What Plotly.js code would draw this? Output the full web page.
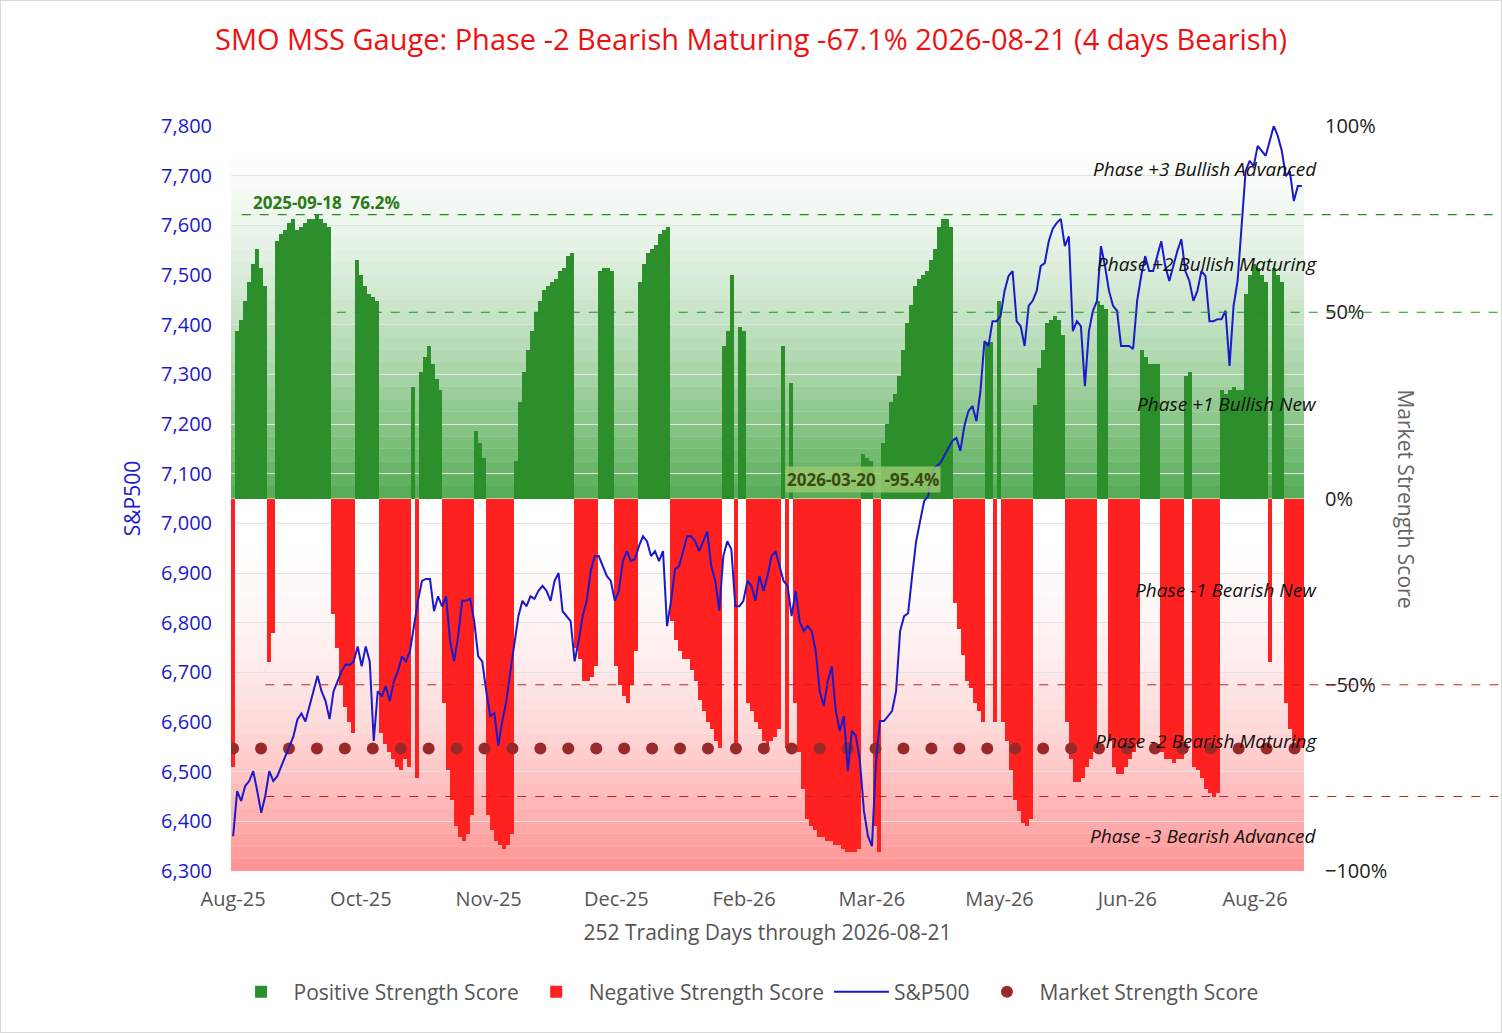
<!DOCTYPE html>
<html>
<head>
<meta charset="utf-8">
<script src="https://cdn.plot.ly/plotly-3.0.1.min.js"></script>
<style>
  body { margin: 0; background: #fff; }
  #chart { width: 1500px; height: 1031px; border: 1px solid #d9d9d9; }
</style>
</head>
<body>
<div id="chart"></div>
<script>
// month labels, one every 30 trading days
const tickLabels = ['Aug-25', 'Oct-25', 'Nov-25', 'Dec-25', 'Feb-26', 'Mar-26', 'May-26', 'Jun-26', 'Aug-26']
const tickDays = [0, 30, 60, 90, 120, 150, 180, 210, 240]

// market strength score (%), read left to right
const score = [
  -72, 45, 48, 53, 58, 63, 67, 62, 57, -44, -36,
  69, 71, 72, 74, 75, 72, 73, 74, 75, 75, 76, 75, 74, 73,
  -31, -40, -50, -56, -60, -63,
  64, 60, 57, 55, 54, 53,
  -63, -66, -68, -70, -72, -73, -70, -72,
  30, -75,
  34, 38, 41, 36, 32, 29,
  -55, -73, -81, -88, -91, -92, -90, -85,
  18, 15, 11,
  -85, -89, -92, -93, -94, -93, -90,
  10, 26, 34, 40, 45, 50, 53, 56, 57, 58, 59, 61, 62, 65, 66,
  -40, -43, -49, -49, -48, -45,
  61, 62, 62, 61,
  -45, -50, -53, -55, -50, -41,
  58, 63, 66, 67, 68, 71, 72, 73,
  -33, -38, -41, -43, -43, -46, -49, -54, -57, -60, -62, -65, -67,
  41, 45, 60, -66, 46, 45,
  -55, -57, -60, -62, -65, -68, -65, -64, -62,
  41, -67, 31,
  -55, -68, -78, -86, -88, -89, -91, -91, -92, -92, -93, -93, -94, -95, -95, -95, -94,
  12, 11, 10, -88, -95,
  15, 20, 26, 28, 33, 40, 47, 52, 57, 59, 60, 61, 64, 67, 73, 75, 75, 73,
  -28, -35, -42, -49, -51, -55, -57, -60,
  42, 42, -60, 53,
  -60, -65, -73, -81, -84, -87, -88, -86,
  25, 35, 40, 47, 48, 49, 48, 44,
  -60, -70, -76, -76, -75, -72, -70, -68,
  53, 52, 51,
  -65, -72, -74, -74, -72, -70, -68, -66,
  40, 38, 36, 36, 36,
  -68, -70, -70, -71, -70, -70,
  33, 34,
  -72, -73, -75, -78, -79, -80, -79,
  29, 28, 29, 30, 29, 29,
  55, 60, 63, 62, 60, 58,
  -44, 62, 60, 58,
  -55, -62, -65, -67, -67.1
]

// S&P500 close, read left to right
const spx = [
  6370, 6461, 6441, 6471, 6481, 6501, 6461, 6417, 6451, 6501, 6481, 6491, 6511, 6531, 6551,
  6571, 6605, 6617, 6601, 6632, 6662, 6693, 6662, 6642, 6606, 6662, 6682, 6702, 6716, 6715,
  6722, 6752, 6712, 6752, 6722, 6562, 6662, 6652, 6672, 6642, 6682, 6702, 6732, 6722, 6742,
  6793, 6844, 6884, 6888, 6888, 6823, 6853, 6833, 6853, 6763, 6722, 6773, 6844, 6844, 6848,
  6803, 6732, 6722, 6662, 6612, 6618, 6552, 6602, 6642, 6702, 6763, 6813, 6844, 6833, 6853,
  6848, 6864, 6874, 6864, 6844, 6884, 6900, 6823, 6813, 6803, 6722, 6763, 6813, 6844, 6904,
  6934, 6934, 6914, 6894, 6884, 6844, 6864, 6924, 6944, 6924, 6928, 6954, 6974, 6964, 6934,
  6944, 6924, 6944, 6793, 6844, 6908, 6914, 6944, 6974, 6974, 6964, 6944, 6964, 6984, 6914,
  6884, 6824, 6934, 6964, 6948, 6833, 6833, 6844, 6884, 6874, 6844, 6894, 6864, 6894, 6934,
  6944, 6914, 6884, 6874, 6813, 6864, 6803, 6783, 6793, 6783, 6743, 6662, 6632, 6682, 6712,
  6622, 6582, 6612, 6501, 6582, 6572, 6521, 6421, 6370, 6350, 6521, 6602, 6602, 6612, 6622,
  6662, 6783, 6813, 6819, 6894, 6964, 7005, 7045, 7055, 7105, 7115, 7121, 7136, 7150, 7166,
  7172, 7146, 7196, 7226, 7236, 7206, 7266, 7367, 7357, 7407, 7407, 7417, 7468, 7498, 7508,
  7407, 7397, 7357, 7438, 7448, 7468, 7518, 7524, 7568, 7593, 7605, 7613, 7558, 7578, 7387,
  7407, 7397, 7276, 7387, 7428, 7448, 7558, 7518, 7468, 7438, 7428, 7357, 7357, 7357, 7351,
  7448, 7498, 7538, 7508, 7508, 7538, 7568, 7518, 7488, 7518, 7548, 7572, 7508, 7488, 7448,
  7468, 7508, 7498, 7407, 7407, 7411, 7411, 7428, 7317, 7438, 7488, 7609, 7709, 7730, 7719,
  7760, 7750, 7740, 7770, 7800, 7780, 7750, 7699, 7709, 7649, 7679, 7679
]

// current reading, drawn as a dotted level
const currentScore = -67.1

const sx = score.map((v, i) => i * 251 / (score.length - 1))
const bw = 251 / (score.length - 1)
const px = spx.map((v, i) => i * 251 / (spx.length - 1))
const dotX = []
for (let d = 0; d <= 251; d += 6.56) dotX.push(d)

const pos = {
  x: sx, y: score.map(v => v > 0 ? v / 100 : null), type: 'bar', width: bw, legendrank: 1,
  name: 'Positive Strength Score', marker: { color: '#2c8f2c', line: { width: 0 } }
}
const neg = {
  x: sx, y: score.map(v => v < 0 ? v / 100 : null), type: 'bar', width: bw, legendrank: 2,
  name: 'Negative Strength Score', marker: { color: '#ff2020', line: { width: 0 } }
}
const line = {
  x: px, y: spx, type: 'scatter', mode: 'lines', name: 'S&P500', yaxis: 'y2', legendrank: 3,
  line: { color: '#1a1acc', width: 2 }
}
const dots = {
  x: dotX, y: dotX.map(() => currentScore / 100), type: 'scatter', mode: 'markers', legendrank: 4,
  name: 'Market Strength Score', marker: { color: '#9a2a2a', size: 12 }
}

// background gradients
const shapes = []
const steps = 30
for (let k = 0; k < steps; k++) {
  const a = k / steps, b = (k + 1) / steps
  shapes.push({ type: 'rect', xref: 'paper', yref: 'y', x0: 0, x1: 1, y0: a, y1: b, line: { width: 0 },
    fillcolor: 'rgba(20,140,20,' + (0.75 * Math.pow(1 - b, 1.6)).toFixed(3) + ')', layer: 'below' })
  shapes.push({ type: 'rect', xref: 'paper', yref: 'y', x0: 0, x1: 1, y0: -b, y1: -a, line: { width: 0 },
    fillcolor: 'rgba(255,60,60,' + (0.55 * Math.pow(b, 2.2)).toFixed(3) + ')', layer: 'below' })
}
const hline = (y, x0, color) => ({ type: 'line', xref: 'paper', yref: 'y', x0: x0, x1: 1.182, y0: y, y1: y,
  line: { color: color, width: 1.2, dash: 'dash' } })
shapes.push(hline(0.762, 0.01, '#2a8a2a'), hline(0.5, 0.065, '#2a8a2a'), hline(-0.5, 0.032, '#cc2020'), hline(-0.8, 0.032, '#cc2020'))

const phase = (text, y) => ({ text: text, xref: 'paper', yref: 'y', x: 1.014, y: y, xanchor: 'right', showarrow: false,
  font: { family: 'Open Sans, sans-serif', size: 19, color: '#111', style: 'italic' } })

const layout = {
  width: 1500, height: 1031,
  margin: { l: 230, r: 197, t: 125, b: 161, autoexpand: false },
  paper_bgcolor: '#fff', plot_bgcolor: '#fff',
  font: { family: 'Open Sans, sans-serif' },
  title: { text: 'SMO MSS Gauge: Phase -2 Bearish Maturing -67.1% 2026-08-21 (4 days Bearish)',
    font: { size: 29, color: '#ee1111' }, x: 0.5, y: 0.962, yanchor: 'middle' },
  barmode: 'overlay', bargap: 0, showlegend: true,
  legend: { orientation: 'h', x: 0.48, xanchor: 'center', y: -0.135, yanchor: 'top',
    font: { size: 21, color: '#555' }, itemwidth: 55 },
  xaxis: { range: [-0.5, 251.5], tickvals: tickDays, ticktext: tickLabels, showgrid: false, zeroline: false,
    tickfont: { size: 20, color: '#555' }, ticks: '', ticklabelstandoff: 14,
    title: { text: '252 Trading Days through 2026-08-21', font: { size: 21, color: '#555' }, standoff: 14 } },
  yaxis: { side: 'right', range: [-1, 1], dtick: 0.5, tickformat: '.0%', showgrid: false,
    zeroline: false, tickfont: { size: 20, color: '#222' }, ticks: '', ticklabelstandoff: 20 },
  yaxis2: { overlaying: 'y', side: 'left', range: [6300, 7800], dtick: 100, tickformat: ',', gridcolor: '#e3e3e3',
    showgrid: true, zeroline: false, tickfont: { size: 20, color: '#1a1acc' }, ticks: '', ticklabelstandoff: 18,
    title: { text: 'S&P500', font: { size: 21, color: '#1a1acc' }, standoff: 14 } },
  shapes: shapes,
  annotations: [
    phase('Phase +3 Bullish Advanced', 0.885),
    phase('Phase +2 Bullish Maturing', 0.63),
    phase('Phase +1 Bullish New', 0.255),
    phase('Phase -1 Bearish New', -0.245),
    phase('Phase -2 Bearish Maturing', -0.65),
    phase('Phase -3 Bearish Advanced', -0.905),
    { text: '<b>2025-09-18  76.2%</b>', xref: 'x', yref: 'y', x: 22, y: 0.795, showarrow: false,
      font: { size: 17, color: '#2a7a1a' } },
    { text: '<b>2026-03-20  -95.4%</b>', xref: 'x', yref: 'y', x: 148, y: 0.05, showarrow: false,
      bgcolor: 'rgba(150,200,110,0.85)', font: { size: 17, color: '#3a4a10' } },
    { text: 'Market Strength Score', xref: 'paper', yref: 'paper', x: 1.11, y: 0.5, textangle: 90, showarrow: false,
      font: { size: 21, color: '#666' } }
  ]
}

Plotly.newPlot('chart', [pos, neg, dots, line], layout, { displayModeBar: false })
</script>
</body>
</html>
